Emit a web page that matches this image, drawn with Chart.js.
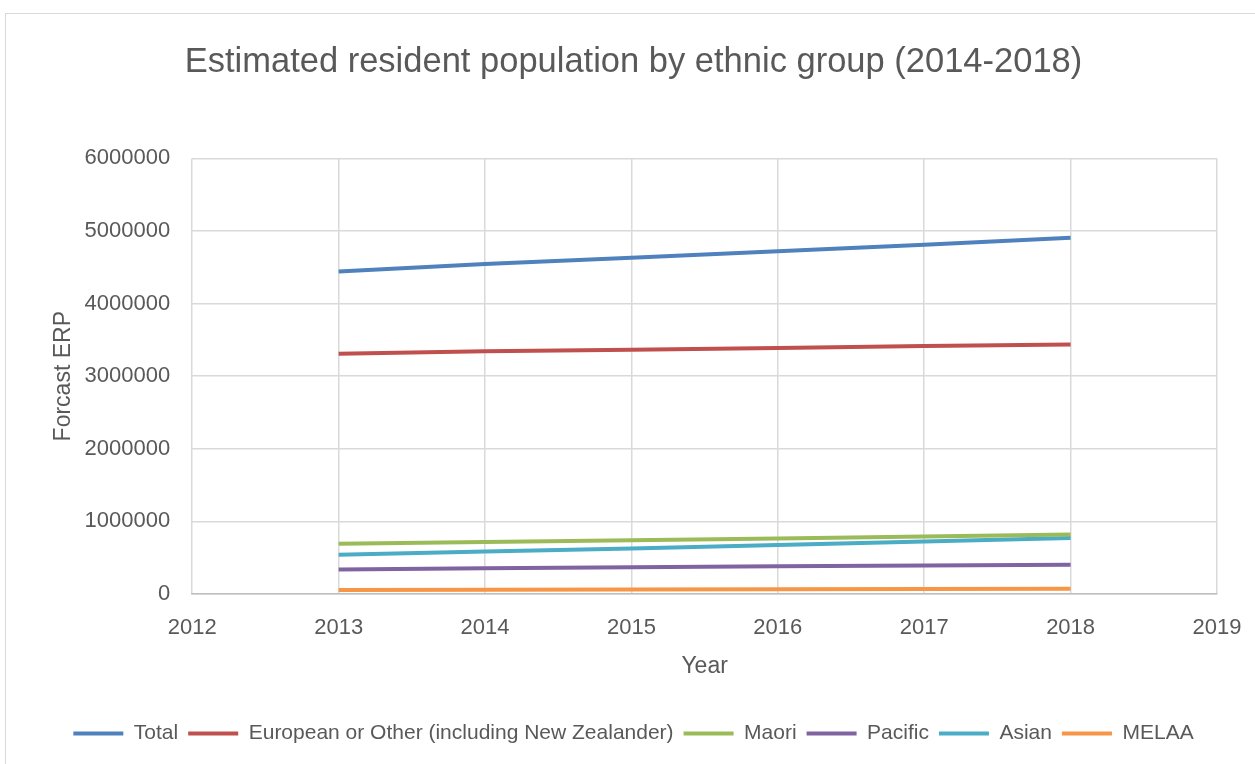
<!DOCTYPE html>
<html>
<head>
<meta charset="utf-8">
<title>Estimated resident population by ethnic group</title>
<script src="https://cdn.jsdelivr.net/npm/chart.js@4"></script>
<style>
  html, body { margin: 0; padding: 0; background: #fff; overflow: hidden; }
  #wrap { position: relative; width: 1255px; height: 764px; }
  #frame {
    position: absolute; left: 5px; top: 13px; width: 1260px; height: 760px;
    border: 1px solid #d9d9d9; pointer-events: none;
  }
</style>
</head>
<body>
<div id="wrap">
  <canvas id="chart" width="1255" height="764"></canvas>
  <div id="frame"></div>
</div>
<script>
// forecast ERP per ethnic group, 2013-2018
const years = [2013, 2014, 2015, 2016, 2017, 2018];
const total = [4443000, 4545000, 4630000, 4720000, 4812000, 4908000];
const european = [3310000, 3342000, 3365000, 3390000, 3415000, 3438000];
const maori = [693000, 716000, 742000, 766000, 792000, 821000];
const pacific = [339000, 353000, 367000, 381000, 393000, 404000];
const asian = [541000, 584000, 628000, 675000, 722000, 771000];
const melaa = [55000, 58000, 61000, 65000, 69000, 73000];

const seriesNames = ["Total", "European or Other (including New Zealander)", "Maori", "Pacific", "Asian", "MELAA"];
const seriesColors = ["#4f81bd", "#c0504d", "#9bbb59", "#8064a2", "#4bacc6", "#f79646"];
const seriesValues = [total, european, maori, pacific, asian, melaa];

const textColor = "#595959";
const fontFamily = "'Liberation Sans', Arial, sans-serif";

const datasets = seriesNames.map((name, i) => ({
  label: name,
  data: years.map((y, j) => ({ x: y, y: seriesValues[i][j] })),
  borderColor: seriesColors[i],
  backgroundColor: seriesColors[i],
  borderWidth: 4,
  pointRadius: 0,
  pointStyle: "line",
  tension: 0,
}));

const ctx = document.getElementById("chart").getContext("2d");

new Chart(ctx, {
  type: "line",
  data: { datasets: datasets },
  options: {
    responsive: false,
    animation: false,
    layout: { padding: { left: 50, right: 38, top: 42, bottom: 10 } },
    plugins: {
      title: {
        display: true,
        text: "Estimated resident population by ethnic group (2014-2018)",
        color: textColor,
        font: { family: fontFamily, size: 34.5, weight: "normal" },
        padding: { top: 0, bottom: 75 },
      },
      legend: {
        position: "bottom",
        labels: {
          usePointStyle: true,
          pointStyleWidth: 50,
          color: textColor,
          font: { family: fontFamily, size: 21 },
          padding: 10,
        },
      },
      tooltip: { enabled: false },
    },
    scales: {
      x: {
        type: "linear",
        min: 2012,
        max: 2019,
        // the 2019 label may hang past the plot edge, no extra room needed
        afterFit: (scale) => { scale.paddingRight = 0; },
        ticks: {
          stepSize: 1,
          color: textColor,
          font: { family: fontFamily, size: 22 },
          padding: 21,
          callback: (v) => String(v),
        },
        grid: { color: "#d9d9d9", lineWidth: 1.5, drawTicks: false },
        border: { color: "#bfbfbf", width: 1.5 },
        title: {
          display: true,
          text: "Year",
          color: textColor,
          font: { family: fontFamily, size: 23 },
          padding: { top: -10, bottom: 33 },
        },
      },
      y: {
        min: 0,
        max: 6000000,
        ticks: {
          stepSize: 1000000,
          color: textColor,
          font: { family: fontFamily, size: 22 },
          padding: 22,
          callback: (v) => String(v),
        },
        grid: { color: "#d9d9d9", lineWidth: 1.5, drawTicks: false },
        border: { display: false },
        title: {
          display: true,
          text: "Forcast ERP",
          color: textColor,
          font: { family: fontFamily, size: 23 },
          padding: { top: 0, bottom: -15 },
        },
      },
    },
  },
});
</script>
</body>
</html>
